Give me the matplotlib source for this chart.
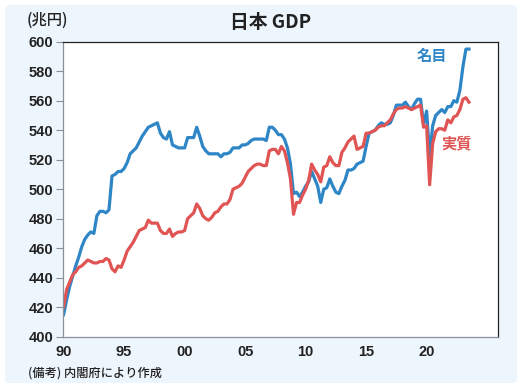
import numpy as np
import matplotlib
matplotlib.use("Agg")
import matplotlib.pyplot as plt
from matplotlib.patches import FancyBboxPatch

plt.rcParams['font.family'] = ['Noto Sans CJK JP', 'DejaVu Sans']

# 四半期データ 1990Q1〜2023Q3（兆円）
nominal = [
    415, 425, 434, 441,  448, 454, 461, 466,  469, 471, 470, 482,  485, 485, 484, 486,
    509, 510, 512, 512,  514, 518, 524, 526,  528, 532, 536, 539,  542, 543, 544, 545,
    538, 535, 534, 539,  530, 529, 528, 528,  528, 535, 535, 535,  542, 536, 529, 526,
    524, 524, 524, 524,  522, 524, 524, 525,  528, 528, 528, 530,  530, 531, 533, 534,
    534, 534, 534, 533,  542, 542, 540, 537,  537, 534, 528, 517,  497, 498, 495, 498,
    502, 505, 512, 507,  502, 491, 500, 501,  507, 502, 498, 497,  502, 506, 513, 513,
    514, 517, 518, 519,  529, 538, 539, 540,  543, 545, 544, 544,  545, 550, 557, 557,
    557, 559, 556, 554,  558, 561, 561, 544,  553, 522, 543, 550,  552, 554, 552, 556,
    556, 560, 559, 567,  583, 595, 595,
]
real = [
    420, 432, 437, 442,  444, 447, 448, 450,  452, 451, 450, 450,  451, 451, 453, 452,
    446, 444, 448, 447,  452, 458, 461, 464,  468, 472, 473, 474,  479, 477, 477, 477,
    472, 470, 470, 473,  468, 470, 471, 471,  472, 480, 482, 484,  490, 487, 482, 480,
    479, 481, 484, 485,  488, 490, 490, 493,  500, 501, 502, 504,  508, 512, 514, 516,
    517, 517, 516, 516,  526, 527, 527, 524,  529, 526, 518, 507,  483, 491, 491, 496,
    500, 506, 517, 513,  510, 505, 515, 516,  522, 518, 516, 516,  525, 528, 532, 534,
    536, 527, 528, 529,  538, 538, 539, 540,  542, 543, 543, 545,  547, 551, 554, 555,
    555, 556, 555, 554,  555, 556, 557, 542,  543, 503, 531, 539,  541, 541, 540, 547,
    545, 549, 550, 554,  561, 562, 559,
]
x = 1990 + np.arange(len(nominal)) / 4

yticks = list(range(400, 601, 20))
xticks = [1990, 1995, 2000, 2005, 2010, 2015, 2020]
xlabels = ['90', '95', '00', '05', '10', '15', '20']

blue = '#2e86c6'
red = '#e05454'

fig = plt.figure(figsize=(5.28, 3.91), dpi=100)
fig.patch.set_facecolor('white')
bg = FancyBboxPatch((5 / 528, 8 / 391), 512 / 528, 378 / 391,
                    boxstyle='round,pad=0,rounding_size=0.01',
                    transform=fig.transFigure, facecolor='#eef6fd',
                    edgecolor='none', zorder=-10)
fig.patches.append(bg)

ax = fig.add_axes([63 / 528, 1 - 336.7 / 391, 435 / 528, 295 / 391])
ax.set_zorder(2)
ax.set_facecolor('white')
ax.plot(x, nominal, color=blue, lw=2.3, solid_joinstyle='round')
ax.plot(x, real, color=red, lw=2.3, solid_joinstyle='round')

ax.set_xlim(1989.95, 2025.9)
ax.set_ylim(400, 600)
ax.set_yticks(yticks)
ax.set_xticks(xticks)
ax.set_xticklabels(xlabels)
for lab in ax.get_xticklabels() + ax.get_yticklabels():
    lab.set_family(['Liberation Sans Narrow', 'Liberation Sans'])
    lab.set_fontsize(10.5)
    lab.set_fontweight('bold')
    lab.set_color('#222222')
ax.tick_params(axis='y', length=5, color='#8a9099', width=0.8, pad=2)
ax.tick_params(axis='x', length=0, pad=6)

for s in ['left', 'bottom']:
    ax.spines[s].set_color('#8a9099')
    ax.spines[s].set_linewidth(0.9)
for s in ['top', 'right']:
    ax.spines[s].set_color('#222222')
    ax.spines[s].set_linewidth(0.9)

ax.text(2020.45, 590.3, '名目', color=blue, fontsize=11, fontweight='bold',
        ha='center', va='center')
ax.text(2022.5, 531.3, '実質', color=red, fontsize=11, fontweight='bold',
        ha='center', va='center')

fig.text(271 / 528, 1 - 22 / 391, '日本 GDP', fontsize=13.5, fontweight='bold',
         ha='center', va='center', color='#222222')
fig.text(27 / 528, 1 - 20 / 391, '(兆円)', fontsize=11, ha='left', va='center',
         color='#222222', fontweight='medium')
fig.text(28 / 528, 1 - 373 / 391, '(備考) 内閣府により作成', fontsize=8.8,
         ha='left', va='center', color='#222222', fontweight='medium')

fig.savefig('out.png', dpi=100, facecolor=fig.get_facecolor())
